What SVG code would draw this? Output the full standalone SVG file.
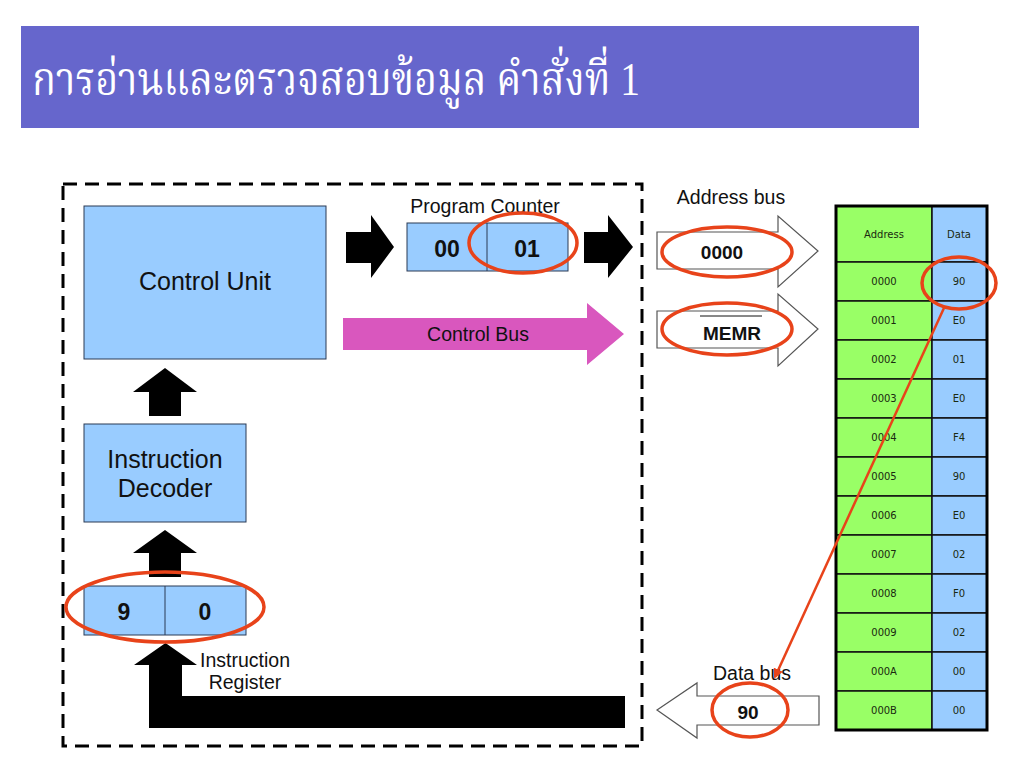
<svg xmlns="http://www.w3.org/2000/svg" width="1024" height="768" viewBox="0 0 1024 768">
<defs>
<style>
.box{fill:#99CCFF;stroke:#2a3a55;stroke-width:1}
.lbl{font-family:"Liberation Sans",Arial,sans-serif;fill:#111}
.big{font-size:25px}
.mid{font-size:19.5px}
.bold{font-weight:bold;font-size:23px}
.ring{fill:none;stroke:#E8431A;stroke-width:3.5}
.blk{fill:#000}
.hollow{fill:#fff;stroke:#555;stroke-width:1.2}
.cellA{fill:#99FF66;stroke:#111;stroke-width:1.5}
.cellD{fill:#99CCFF;stroke:#111;stroke-width:1.5}
.tt{font-family:"DejaVu Sans",Verdana,sans-serif;font-size:10px;fill:#1a2a10;text-anchor:middle}
</style>
<marker id="rarr" markerWidth="10" markerHeight="10" refX="8" refY="5" orient="auto" markerUnits="userSpaceOnUse">
<path d="M0,0 L10,5 L0,10 Z" fill="#E8431A"/>
</marker>
</defs>
<rect width="1024" height="768" fill="#fff"/>
<g id="title">
<rect x="21" y="26" width="898" height="102" fill="#6666CC"/>
<text x="32" y="95" font-family="'Liberation Serif','Noto Serif Thai','Noto Sans Thai','DejaVu Sans',serif" font-size="46" fill="#fff" textLength="608" lengthAdjust="spacingAndGlyphs">การอ่านและตรวจสอบข้อมูล คำสั่งที่ 1</text>
</g>
<g id="cpu-frame">
<rect x="63" y="184" width="579" height="562" fill="none" stroke="#000" stroke-width="3" stroke-dasharray="14 8"/>
</g>
<g id="control-unit">
<rect class="box" x="84" y="206" width="242" height="153"/>
<text class="lbl big" x="205" y="290" text-anchor="middle">Control Unit</text>
</g>
<g id="instruction-decoder">
<rect class="box" x="84" y="424" width="162" height="98"/>
<text class="lbl big" x="165" y="468" text-anchor="middle">Instruction</text>
<text class="lbl big" x="165" y="497" text-anchor="middle">Decoder</text>
</g>
<g id="instruction-register">
<rect class="box" x="84" y="586" width="162" height="49"/>
<line x1="165" y1="586" x2="165" y2="635" stroke="#2a3a55"/>
<text class="lbl bold" x="124" y="620" text-anchor="middle">9</text>
<text class="lbl bold" x="205" y="620" text-anchor="middle">0</text>
<text class="lbl mid" x="245" y="667" text-anchor="middle">Instruction</text>
<text class="lbl mid" x="245" y="689" text-anchor="middle">Register</text>
</g>
<g id="program-counter">
<text class="lbl mid" x="485" y="213" text-anchor="middle">Program Counter</text>
<rect class="box" x="407" y="223" width="161" height="48"/>
<line x1="487" y1="223" x2="487" y2="271" stroke="#2a3a55"/>
<text class="lbl bold" x="447" y="257" text-anchor="middle">00</text>
<text class="lbl bold" x="527" y="257" text-anchor="middle">01</text>
</g>
<g id="address-bus">
<text class="lbl mid" x="731" y="204" text-anchor="middle">Address bus</text>
<path class="hollow" d="M657,232 H778 V216 L818,251 L778,287 V269 H657 Z"/>
<text class="lbl" x="722" y="259" text-anchor="middle" font-weight="bold" font-size="19">0000</text>
</g>
<g id="memr">
<path class="hollow" d="M657,311 H778 V294 L818,329 L778,366 V348 H657 Z"/>
<text class="lbl" x="732" y="340" text-anchor="middle" font-weight="bold" font-size="19">MEMR</text>
<line x1="700" y1="316" x2="762" y2="316" stroke="#111" stroke-width="1"/>
</g>
<g id="data-bus">
<text class="lbl mid" x="752" y="680" text-anchor="middle">Data bus</text>
<path class="hollow" d="M819,696 H697 V683 L657,710 L697,738 V725 H819 Z"/>
<text class="lbl" x="748" y="719" text-anchor="middle" font-weight="bold" font-size="19">90</text>
</g>
<g id="memory">
<rect class="cellA" x="836" y="206" width="96" height="56"/>
<rect class="cellD" x="932" y="206" width="55" height="56"/>
<text class="tt" x="884" y="238">Address</text>
<text class="tt" x="959" y="238">Data</text>
<g>
<rect class="cellA" x="836" y="262" width="96" height="39"/><rect class="cellD" x="932" y="262" width="55" height="39"/>
<rect class="cellA" x="836" y="301" width="96" height="39"/><rect class="cellD" x="932" y="301" width="55" height="39"/>
<rect class="cellA" x="836" y="340" width="96" height="39"/><rect class="cellD" x="932" y="340" width="55" height="39"/>
<rect class="cellA" x="836" y="379" width="96" height="39"/><rect class="cellD" x="932" y="379" width="55" height="39"/>
<rect class="cellA" x="836" y="418" width="96" height="39"/><rect class="cellD" x="932" y="418" width="55" height="39"/>
<rect class="cellA" x="836" y="457" width="96" height="39"/><rect class="cellD" x="932" y="457" width="55" height="39"/>
<rect class="cellA" x="836" y="496" width="96" height="39"/><rect class="cellD" x="932" y="496" width="55" height="39"/>
<rect class="cellA" x="836" y="535" width="96" height="39"/><rect class="cellD" x="932" y="535" width="55" height="39"/>
<rect class="cellA" x="836" y="574" width="96" height="39"/><rect class="cellD" x="932" y="574" width="55" height="39"/>
<rect class="cellA" x="836" y="613" width="96" height="39"/><rect class="cellD" x="932" y="613" width="55" height="39"/>
<rect class="cellA" x="836" y="652" width="96" height="39"/><rect class="cellD" x="932" y="652" width="55" height="39"/>
<rect class="cellA" x="836" y="691" width="96" height="39"/><rect class="cellD" x="932" y="691" width="55" height="39"/>
</g>
<text class="tt" x="884" y="285">0000</text><text class="tt" x="959" y="285">90</text>
<text class="tt" x="884" y="324">0001</text><text class="tt" x="959" y="324">E0</text>
<text class="tt" x="884" y="363">0002</text><text class="tt" x="959" y="363">01</text>
<text class="tt" x="884" y="402">0003</text><text class="tt" x="959" y="402">E0</text>
<text class="tt" x="884" y="441">0004</text><text class="tt" x="959" y="441">F4</text>
<text class="tt" x="884" y="480">0005</text><text class="tt" x="959" y="480">90</text>
<text class="tt" x="884" y="519">0006</text><text class="tt" x="959" y="519">E0</text>
<text class="tt" x="884" y="558">0007</text><text class="tt" x="959" y="558">02</text>
<text class="tt" x="884" y="597">0008</text><text class="tt" x="959" y="597">F0</text>
<text class="tt" x="884" y="636">0009</text><text class="tt" x="959" y="636">02</text>
<text class="tt" x="884" y="675">000A</text><text class="tt" x="959" y="675">00</text>
<text class="tt" x="884" y="714">000B</text><text class="tt" x="959" y="714">00</text>
<rect x="836" y="206" width="151" height="524" fill="none" stroke="#000" stroke-width="3"/>
</g>
<g id="connectors">
<path class="blk" d="M149,416 V392 H133 L165,368 L197,392 H181 V416 Z"/>
<path class="blk" d="M149,577 V553 H133 L165,530 L197,553 H181 V577 Z"/>
<path class="blk" d="M149,728 V665 H134 L165.5,643 L197,665 H182 V696 H625 V728 Z"/>
<path class="blk" d="M346,232 H371 V215 L394,247 L371,278 V263 H346 Z"/>
<path class="blk" d="M584,232 H608 V215 L633,247 L608,278 V263 H584 Z"/>
<path d="M343,318 H587 V303 L624,334 L587,365 V350 H343 Z" fill="#D957BE"/>
<text class="lbl mid" x="478" y="341" text-anchor="middle" fill="#2a0a2a">Control Bus</text>
<line x1="944" y1="308" x2="775" y2="677" stroke="#E8431A" stroke-width="2.5" marker-end="url(#rarr)"/>
</g>
<g id="highlights">
<ellipse class="ring" cx="165" cy="607" rx="99" ry="35"/>
<ellipse class="ring" cx="523" cy="243" rx="54" ry="30"/>
<ellipse class="ring" cx="727" cy="252" rx="65" ry="25"/>
<ellipse class="ring" cx="727" cy="329" rx="65" ry="26"/>
<ellipse class="ring" cx="959" cy="283" rx="37" ry="26"/>
<ellipse class="ring" cx="750" cy="710" rx="38" ry="27"/>
</g>
</svg>
